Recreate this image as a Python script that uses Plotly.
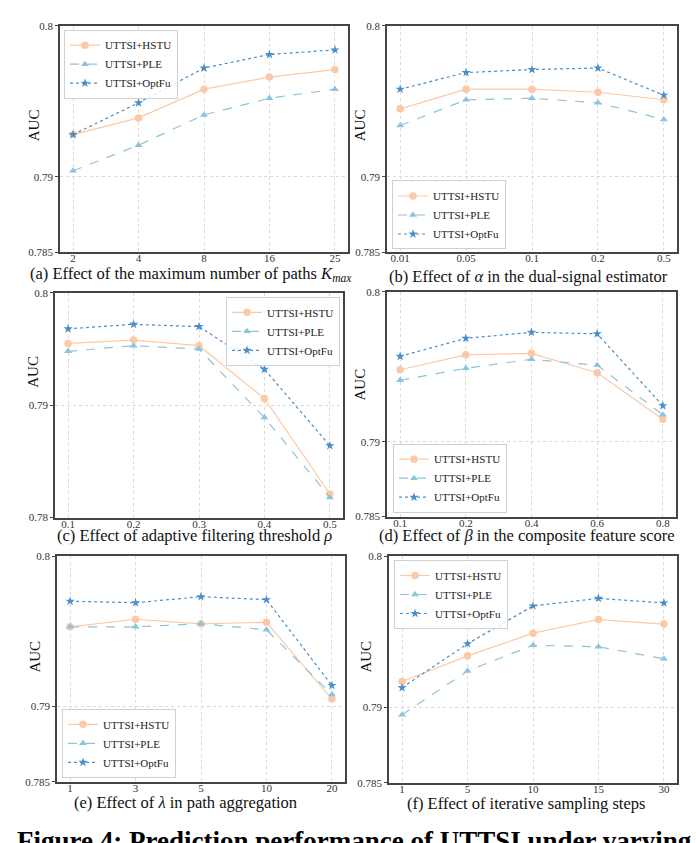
import plotly.graph_objects as go

# ---------------- data ----------------
series_names = ["UTTSI+HSTU", "UTTSI+PLE", "UTTSI+OptFu"]

a_x = ["2", "4", "8", "16", "25"]
a_hstu = [0.7928, 0.7939, 0.7958, 0.7966, 0.7971]
a_ple = [0.7904, 0.7921, 0.7941, 0.7952, 0.7958]
a_optfu = [0.7928, 0.7949, 0.7972, 0.7981, 0.7984]

b_x = ["0.01", "0.05", "0.1", "0.2", "0.5"]
b_hstu = [0.7945, 0.7958, 0.7958, 0.7956, 0.7951]
b_ple = [0.7934, 0.7951, 0.7952, 0.7949, 0.7938]
b_optfu = [0.7958, 0.7969, 0.7971, 0.7972, 0.7954]

c_x = ["0.1", "0.2", "0.3", "0.4", "0.5"]
c_hstu = [0.7955, 0.7958, 0.7953, 0.7906, 0.7821]
c_ple = [0.7948, 0.7953, 0.7950, 0.7889, 0.7818]
c_optfu = [0.7968, 0.7972, 0.7970, 0.7932, 0.7864]

d_x = ["0.1", "0.2", "0.4", "0.6", "0.8"]
d_hstu = [0.7948, 0.7958, 0.7959, 0.7946, 0.7915]
d_ple = [0.7941, 0.7949, 0.7955, 0.7951, 0.7918]
d_optfu = [0.7957, 0.7969, 0.7973, 0.7972, 0.7924]

e_x = ["1", "3", "5", "10", "20"]
e_hstu = [0.7953, 0.7958, 0.7955, 0.7956, 0.7905]
e_ple = [0.7953, 0.7953, 0.7955, 0.7951, 0.7908]
e_optfu = [0.7970, 0.7969, 0.7973, 0.7971, 0.7914]

f_x = ["1", "5", "10", "15", "30"]
f_hstu = [0.7917, 0.7934, 0.7949, 0.7958, 0.7955]
f_ple = [0.7895, 0.7924, 0.7941, 0.7940, 0.7932]
f_optfu = [0.7913, 0.7942, 0.7967, 0.7972, 0.7969]

yticks_main = [0.785, 0.79, 0.8]
yticks_c = [0.78, 0.79, 0.8]

captions = [
    "(a) Effect of the maximum number of paths <i>K</i><sub><i>max</i></sub>",
    "(b) Effect of <i>α</i> in the dual-signal estimator",
    "(c) Effect of adaptive filtering threshold <i>ρ</i>",
    "(d) Effect of <i>β</i> in the composite feature score",
    "(e) Effect of <i>λ</i> in path aggregation",
    "(f) Effect of iterative sampling steps",
]
fig_caption = "Figure 4: Prediction performance of UTTSI under varying"

# ---------------- layout helpers ----------------
W, H = 696, 843
SERIF = "Liberation Serif, Times New Roman, serif"

def fx(p):
    return p / W

def fy(p):
    return 1 - p / H

colors = ["#fcc9a6", "#8cc3dd", "#4a8fc9"]
dashes = ["solid", "dash", "dot"]
symbols = ["circle", "triangle-up", "star"]
msizes = [7.5, 7, 7]

# leg: (x_px, y_px, xanchor, yanchor)
panels = [
    dict(x=a_x, ys=[a_hstu, a_ple, a_optfu], yt=yticks_main, yr=[0.785, 0.8],
         box=(60, 20, 348, 250), leg=(64, 24, "left", "top"), cap=(191, 272), auc=(34, 121)),
    dict(x=b_x, ys=[b_hstu, b_ple, b_optfu], yt=yticks_main, yr=[0.785, 0.8],
         box=(387, 20, 677, 250), leg=(392, 247, "left", "bottom"), cap=(528, 274), auc=(360, 121)),
    dict(x=c_x, ys=[c_hstu, c_ple, c_optfu], yt=yticks_c, yr=[0.78, 0.8],
         box=(55, 291, 343, 519), leg=(340, 295, "right", "top"), cap=(194, 537), auc=(33, 371)),
    dict(x=d_x, ys=[d_hstu, d_ple, d_optfu], yt=yticks_main, yr=[0.785, 0.8],
         box=(387, 290, 676, 518), leg=(393, 514, "left", "bottom"), cap=(527, 537), auc=(360, 384)),
    dict(x=e_x, ys=[e_hstu, e_ple, e_optfu], yt=yticks_main, yr=[0.785, 0.8],
         box=(57, 558, 345, 787), leg=(62, 783, "left", "bottom"), cap=(185, 808), auc=(35, 660)),
    dict(x=f_x, ys=[f_hstu, f_ple, f_optfu], yt=yticks_main, yr=[0.785, 0.8],
         box=(389, 558, 677, 788), leg=(394, 562, "left", "top"), cap=(526, 809), auc=(366, 660)),
]

fig = go.Figure()
annotations = []
layout_extra = {}

for i, p in enumerate(panels):
    n = "" if i == 0 else str(i + 1)
    xa, ya = "x" + n, "y" + n
    legname = "legend" + n
    for k in range(3):
        fig.add_trace(go.Scatter(
            x=p["x"], y=p["ys"][k], name=series_names[k],
            mode="lines+markers", xaxis=xa, yaxis=ya, legend=legname,
            line=dict(color=colors[k], width=1.2, dash=dashes[k]),
            marker=dict(symbol=symbols[k], size=msizes[k], color=colors[k],
                        line=dict(width=0)),
        ))
    L, T, R, B = p["box"]
    layout_extra["xaxis" + n] = dict(
        domain=[fx(L), fx(R)], anchor=ya, type="category",
        range=[-0.2, 4.2], showline=True, mirror=True, linecolor="#444",
        linewidth=1.5, ticks="", ticklabelstandoff=-5,
        showgrid=True, gridcolor="#d9d9d9", griddash="dot", gridwidth=1,
        tickfont=dict(family=SERIF, size=11, color="#333"), zeroline=False,
    )
    layout_extra["yaxis" + n] = dict(
        domain=[fy(B), fy(T)], anchor=xa, range=p["yr"],
        tickvals=p["yt"], ticktext=[f"{v:g}" for v in p["yt"]],
        showline=True, mirror=True, linecolor="#444", linewidth=1.5,
        ticks="outside", ticklen=3, tickcolor="#444",
        showgrid=True, gridcolor="#d9d9d9", griddash="dot", gridwidth=1,
        tickfont=dict(family=SERIF, size=11, color="#333"), zeroline=False,
    )
    lx, ly, lxa, lya = p["leg"]
    layout_extra[legname] = dict(
        x=fx(lx), y=fy(ly), xanchor=lxa, yanchor=lya,
        bgcolor="rgba(255,255,255,0.85)", bordercolor="#d0d0d0", borderwidth=1,
        font=dict(family=SERIF, size=11, color="#222"),
        tracegroupgap=0, itemwidth=30,
    )
    cx, cy = p["cap"]
    annotations.append(dict(
        text=captions[i], x=fx(cx), y=fy(cy), xref="paper", yref="paper",
        xanchor="center", yanchor="middle", showarrow=False,
        font=dict(family=SERIF, size=16.5, color="#111"),
    ))
    ax_, ay_ = p["auc"]
    annotations.append(dict(
        text="AUC", x=fx(ax_), y=fy(ay_), xref="paper", yref="paper",
        xanchor="center", yanchor="middle", showarrow=False, textangle=-90,
        font=dict(family=SERIF, size=15, color="#111"),
    ))

annotations.append(dict(
    text="<b>" + fig_caption + "</b>", x=fx(15), y=fy(830), xref="paper",
    yref="paper", xanchor="left", yanchor="top", showarrow=False,
    font=dict(family=SERIF, size=27, color="#000"),
))

fig.update_layout(
    width=W, height=H, margin=dict(l=0, r=0, t=0, b=0),
    paper_bgcolor="white", plot_bgcolor="white",
    annotations=annotations, **layout_extra,
)

fig.write_html("out.html")
